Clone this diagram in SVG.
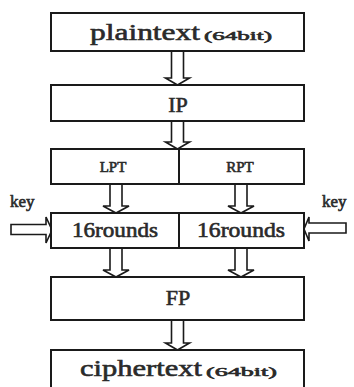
<svg xmlns="http://www.w3.org/2000/svg" width="354" height="387" viewBox="0 0 354 387">
<style>
.box{fill:#fff;stroke:#1a1a1a;stroke-width:2}
.arr{fill:#fff;stroke:#1a1a1a;stroke-width:1.6;stroke-linejoin:miter}
</style>
<rect width="354" height="387" fill="#fff"/>
<g id="connectors">
  <path class="arr" d="M171.5,51 V78 H165.5 L177.5,85 L189.5,78 H183.5 V51 Z"/>
  <path class="arr" d="M171.5,121 V142 H165.5 L177.5,149 L189.5,142 H183.5 V121 Z"/>
  <path class="arr" d="M110,184 V206 H103 L116,213 L129,206 H122 V184 Z"/>
  <path class="arr" d="M235,184 V206 H228 L241,213 L254,206 H247 V184 Z"/>
  <path class="arr" d="M110,248 V270 H103 L116,277 L129,270 H122 V248 Z"/>
  <path class="arr" d="M235,248 V270 H228 L241,277 L254,270 H247 V248 Z"/>
  <path class="arr" d="M171.5,320 V343 H165.5 L177.5,350 L189.5,343 H183.5 V320 Z"/>
  <path class="arr" d="M11,224.5 H46 V217 L52,230 L46,243 V234.5 H11 Z"/>
  <path class="arr" d="M346,223 H309 V217 L304,229 L309,241 V233 H346 Z"/>
</g>
<g font-family="Liberation Serif, serif" font-weight="normal" fill="#2a2a2a" stroke="#2a2a2a" stroke-width="0.6">
<g id="plaintext">
  <rect class="box" x="51" y="13" width="253" height="38"/>
  <text x="90" y="40" font-size="24" textLength="110" lengthAdjust="spacingAndGlyphs">plaintext</text>
  <text x="204" y="40" font-size="13" textLength="68" lengthAdjust="spacingAndGlyphs">(64bit)</text>
</g>
<g id="ip">
  <rect class="box" x="51" y="85" width="253" height="36"/>
  <text x="178" y="112" font-size="22" text-anchor="middle">IP</text>
</g>
<g id="lpt">
  <rect class="box" x="51" y="149" width="128" height="35"/>
  <text x="113" y="172" font-size="15" text-anchor="middle">LPT</text>
</g>
<g id="rpt">
  <rect class="box" x="179" y="149" width="125" height="35"/>
  <text x="240" y="172" font-size="15" text-anchor="middle">RPT</text>
</g>
<g id="rounds-left">
  <rect class="box" x="51" y="213" width="128" height="35"/>
  <text x="72" y="237" font-size="20" textLength="86" lengthAdjust="spacingAndGlyphs">16rounds</text>
</g>
<g id="rounds-right">
  <rect class="box" x="179" y="213" width="125" height="35"/>
  <text x="197" y="237" font-size="20" textLength="88" lengthAdjust="spacingAndGlyphs">16rounds</text>
</g>
<g id="key-left">
  <text x="10" y="207" font-size="17">key</text>
</g>
<g id="key-right">
  <text x="322" y="207" font-size="17">key</text>
</g>
<g id="fp">
  <rect class="box" x="51" y="277" width="253" height="43"/>
  <text x="178" y="305" font-size="22" text-anchor="middle">FP</text>
</g>
<g id="ciphertext">
  <rect class="box" x="51" y="350" width="253" height="50"/>
  <text x="80" y="376" font-size="24" textLength="122" lengthAdjust="spacingAndGlyphs">ciphertext</text>
  <text x="206" y="376" font-size="13" textLength="71" lengthAdjust="spacingAndGlyphs">(64bit)</text>
</g>
</g>
</svg>
